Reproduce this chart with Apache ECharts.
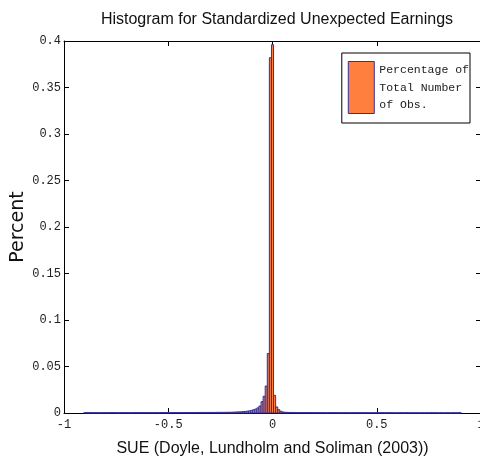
<!DOCTYPE html>
<html>
<head>
<meta charset="utf-8">
<script src="https://cdn.jsdelivr.net/npm/echarts@6/dist/echarts.min.js"></script>
<style>
  html, body { margin: 0; padding: 0; background: #fff; }
  #chart { width: 480px; height: 462px; }
</style>
</head>
<body>
<div id="chart"></div>
<script>
// bins of width 0.01, first bin centred at -0.9
var firstBin = -0.9
var binWidth = 0.01

// share of observations per bin, -0.90 .. -0.21
var leftTail = [
  0.0003, 0.0004, 0.0003, 0.0004, 0.0003, 0.0004, 0.0004, 0.0003, 0.0004, 0.0004,
  0.0004, 0.0003, 0.0004, 0.0004, 0.0004, 0.0004, 0.0003, 0.0004, 0.0004, 0.0004,
  0.0004, 0.0004, 0.0003, 0.0004, 0.0004, 0.0004, 0.0004, 0.0004, 0.0004, 0.0004,
  0.0004, 0.0004, 0.0004, 0.0004, 0.0005, 0.0004, 0.0004, 0.0005, 0.0004, 0.0005,
  0.0005, 0.0004, 0.0005, 0.0005, 0.0005, 0.0005, 0.0005, 0.0005, 0.0005, 0.0005,
  0.0005, 0.0005, 0.0005, 0.0006, 0.0005, 0.0006, 0.0006, 0.0006, 0.0006, 0.0006,
  0.0006, 0.0006, 0.0006, 0.0007, 0.0007, 0.0007, 0.0007, 0.0007, 0.0008, 0.0008
]
// -0.20 .. 0.06
var centre = [
  0.0008, 0.0009, 0.001, 0.0011, 0.0012, 0.0013, 0.0015, 0.0017, 0.002, 0.0023,
  0.0028, 0.0035, 0.0043, 0.0055, 0.0075, 0.0122, 0.018, 0.029, 0.064, 0.382,
  0.396, 0.019, 0.0065, 0.0036, 0.0018, 0.0011, 0.0008
]
// 0.07 .. 0.90
var rightTail = [
  0.0007, 0.0006, 0.0006, 0.0006, 0.0005, 0.0005, 0.0005, 0.0005, 0.0005, 0.0005,
  0.0004, 0.0005, 0.0004, 0.0004, 0.0004, 0.0004, 0.0004, 0.0004, 0.0004, 0.0003,
  0.0004, 0.0004, 0.0003, 0.0004, 0.0003, 0.0004, 0.0003, 0.0003, 0.0004, 0.0003,
  0.0003, 0.0003, 0.0004, 0.0003, 0.0003, 0.0003, 0.0003, 0.0003, 0.0003, 0.0003,
  0.0003, 0.0003, 0.0003, 0.0003, 0.0003, 0.0003, 0.0003, 0.0002, 0.0003, 0.0003,
  0.0003, 0.0003, 0.0002, 0.0003, 0.0003, 0.0003, 0.0002, 0.0003, 0.0003, 0.0002,
  0.0003, 0.0002, 0.0003, 0.0003, 0.0002, 0.0003, 0.0002, 0.0003, 0.0002, 0.0003,
  0.0002, 0.0003, 0.0002, 0.0002, 0.0003, 0.0002, 0.0002, 0.0003, 0.0002, 0.0002,
  0.0003, 0.0002, 0.0002, 0.0003
]
var percent = leftTail.concat(centre, rightTail)

var legendName = 'Percentage of\nTotal Number\nof Obs.'

var sans = '"Liberation Sans", Arial, sans-serif'
var mono = '"Liberation Mono", "DejaVu Sans Mono", monospace'

var bins = percent.map(function (v, i) {
  return [firstBin + i * binWidth, v]
})

var chart = echarts.init(document.getElementById('chart'))

// 坐标轴公共样式
var frameAxis = {
  axisLine: { onZero: false, lineStyle: { color: '#000', width: 1 } },
  axisTick: { inside: true, length: 5, lineStyle: { color: '#000' } },
  splitLine: { show: false }
}

var option = {
  animation: false,
  title: {
    text: 'Histogram for Standardized Unexpected Earnings',
    left: 272,
    top: 7,
    textAlign: 'center',
    textStyle: {
      fontFamily: sans,
      fontSize: 16,
      fontWeight: 'normal',
      color: '#111'
    }
  },
  legend: {
    data: [legendName],
    right: 10,
    top: 53,
    orient: 'vertical',
    itemWidth: 26,
    itemHeight: 52,
    padding: [8, 1, 9, 6],
    borderColor: '#000',
    borderWidth: 1,
    backgroundColor: '#fff',
    icon: 'rect',
    itemStyle: {
      color: '#ff7f3f',
      borderColor: '#3030a0',
      borderWidth: 1
    },
    textStyle: {
      fontFamily: mono,
      fontSize: 11.5,
      lineHeight: 17.5,
      color: '#222'
    }
  },
  grid: {
    left: 64,
    top: 41,
    width: 417,
    height: 372,
    outerBoundsMode: 'none',
    containLabel: false
  },
  xAxis: [Object.assign({}, frameAxis, {
    type: 'value',
    min: -1,
    max: 1,
    interval: 0.5,
    name: 'SUE (Doyle, Lundholm and Soliman (2003))',
    nameLocation: 'middle',
    nameGap: 28,
    nameMoveOverlap: false,
    nameTextStyle: {
      fontFamily: sans,
      fontSize: 16,
      color: '#111'
    },
    axisLabel: {
      fontFamily: mono,
      fontSize: 12,
      color: '#222',
      margin: 6
    }
  }), Object.assign({}, frameAxis, {
    type: 'value',
    position: 'top',
    min: -1,
    max: 1,
    interval: 0.5,
    axisLabel: { show: false }
  })],
  yAxis: [Object.assign({}, frameAxis, {
    type: 'value',
    min: 0,
    max: 0.4,
    interval: 0.05,
    name: 'Percent',
    nameLocation: 'middle',
    nameGap: 36,
    nameMoveOverlap: false,
    nameTextStyle: {
      fontFamily: '"DejaVu Sans", sans-serif',
      fontSize: 19,
      color: '#111'
    },
    axisLabel: {
      fontFamily: mono,
      fontSize: 12,
      color: '#222',
      margin: 3
    }
  }), Object.assign({}, frameAxis, {
    type: 'value',
    position: 'right',
    min: 0,
    max: 0.4,
    interval: 0.05,
    axisLabel: { show: false }
  })],
  series: [{
    name: legendName,
    type: 'custom',
    xAxisIndex: 0,
    yAxisIndex: 0,
    data: bins,
    itemStyle: {
      color: '#ff7f3f',
      borderColor: '#3030a0',
      borderWidth: 1
    },
    renderItem: function (params, api) {
      var x = api.value(0)
      var topLeft = api.coord([x - binWidth / 2, api.value(1)])
      var bottomRight = api.coord([x + binWidth / 2, 0])
      return {
        type: 'rect',
        shape: {
          x: topLeft[0],
          y: topLeft[1],
          width: bottomRight[0] - topLeft[0],
          height: bottomRight[1] - topLeft[1]
        },
        style: {
          fill: '#ff7f3f',
          stroke: '#3030a0',
          lineWidth: 1
        }
      }
    }
  }]
}

chart.setOption(option)
</script>
</body>
</html>
